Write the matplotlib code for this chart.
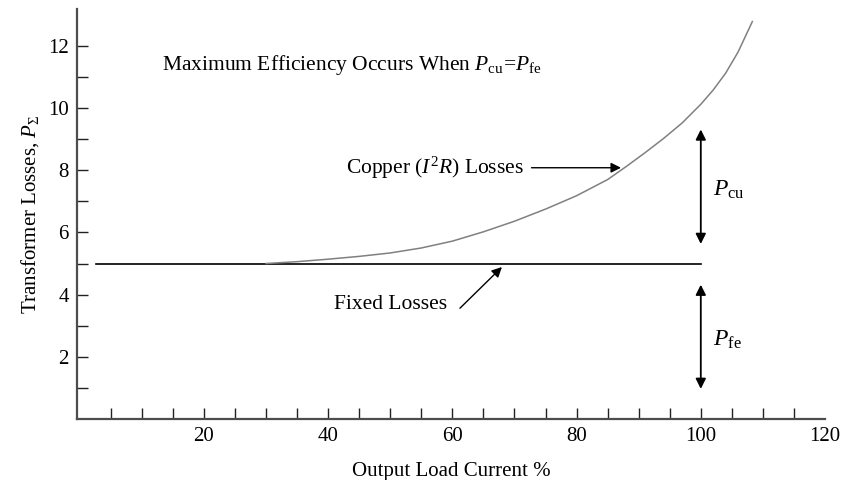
import matplotlib.pyplot as plt
from matplotlib.ticker import FixedLocator

plt.rcParams['font.family'] = ['Liberation Serif', 'DejaVu Serif']
plt.rcParams['mathtext.fontset'] = 'custom'
plt.rcParams['mathtext.rm'] = 'Liberation Serif'
plt.rcParams['mathtext.it'] = 'Liberation Serif:italic'
plt.rcParams['mathtext.bf'] = 'Liberation Serif:bold'

# Постоянные потери (сталь) и потери в меди
fixed_x = [2.6, 100]
fixed_y = [5.0, 5.0]

copper_x = [30, 35, 40, 45, 50, 55, 60, 65, 70, 75, 80, 85, 88, 91, 94, 97,
            100, 102, 104, 106, 108.3]
copper_y = [5.00, 5.06, 5.14, 5.23, 5.34, 5.50, 5.72, 6.02, 6.36, 6.75, 7.18,
            7.70, 8.12, 8.56, 9.02, 9.52, 10.12, 10.58, 11.12, 11.80, 12.78]

x_major = [20, 40, 60, 80, 100, 120]
x_minor = [5, 10, 15, 25, 30, 35, 45, 50, 55, 65, 70, 75, 85, 90, 95, 105, 110, 115]
y_major = [2, 4, 6, 8, 10, 12]
y_minor = [1, 3, 5, 7, 9, 11]

fig = plt.figure(figsize=(8.44, 4.8), dpi=100)
ax = fig.add_axes([0.0912, 0.127, 0.8863, 0.854])

ax.plot(fixed_x, fixed_y, color='black', lw=1.2)
ax.plot(copper_x, copper_y, color='#808080', lw=1.1)

ax.set_xlim(-0.44, 120)
ax.set_ylim(0, 13.18)

# Оси: только левая и нижняя, засечки внутрь
for s in ['top', 'right']:
    ax.spines[s].set_visible(False)
for s in ['left', 'bottom']:
    ax.spines[s].set_color('#4d4d4d')
    ax.spines[s].set_linewidth(1.6)

ax.set_xticks(x_major)
ax.set_yticks(y_major)
ax.xaxis.set_minor_locator(FixedLocator(x_minor))
ax.yaxis.set_minor_locator(FixedLocator(y_minor))
ax.tick_params(which='both', direction='in', length=8, width=1, color='#222222',
               labelsize=15, pad=6)
ax.xaxis.get_major_ticks()[-1].tick1line.set_visible(False)

ax.set_xlabel('Output Load Current %', fontsize=15, labelpad=11)
ax.set_ylabel(r'Transformer Losses, $P_{\Sigma}$', fontsize=15, labelpad=5)

# Подписи
ax.text(13.2, 11.38, r'Maximum Efficiency Occurs When $P_{\rm cu}\!=\!P_{\rm fe}$',
        fontsize=15.5, va='center', ha='left')

ax.annotate('', xy=(87.6, 8.08), xytext=(72.3, 8.08),
            arrowprops=dict(arrowstyle='-|>', color='black', lw=1, mutation_scale=15))
ax.text(71.5, 8.08, r'Copper ($I^2R$) Losses', fontsize=15.5, va='center', ha='right')

ax.annotate('', xy=(68.3, 4.95), xytext=(60.9, 3.5),
            arrowprops=dict(arrowstyle='-|>', color='black', lw=1, mutation_scale=15))
ax.text(59.2, 3.67, 'Fixed Losses', fontsize=15.5, va='center', ha='right')

ax.annotate('', xy=(100, 9.4), xytext=(100, 5.54),
            arrowprops=dict(arrowstyle='<|-|>', color='black', lw=1.3, mutation_scale=15))
ax.annotate('', xy=(100, 4.41), xytext=(100, 0.88),
            arrowprops=dict(arrowstyle='<|-|>', color='black', lw=1.3, mutation_scale=15))
ax.text(101.9, 7.36, r'$P_{\rm cu}$', fontsize=17, va='center', ha='left')
ax.text(101.9, 2.54, r'$P_{\rm fe}$', fontsize=17, va='center', ha='left')

fig.savefig('out.png', dpi=100)
